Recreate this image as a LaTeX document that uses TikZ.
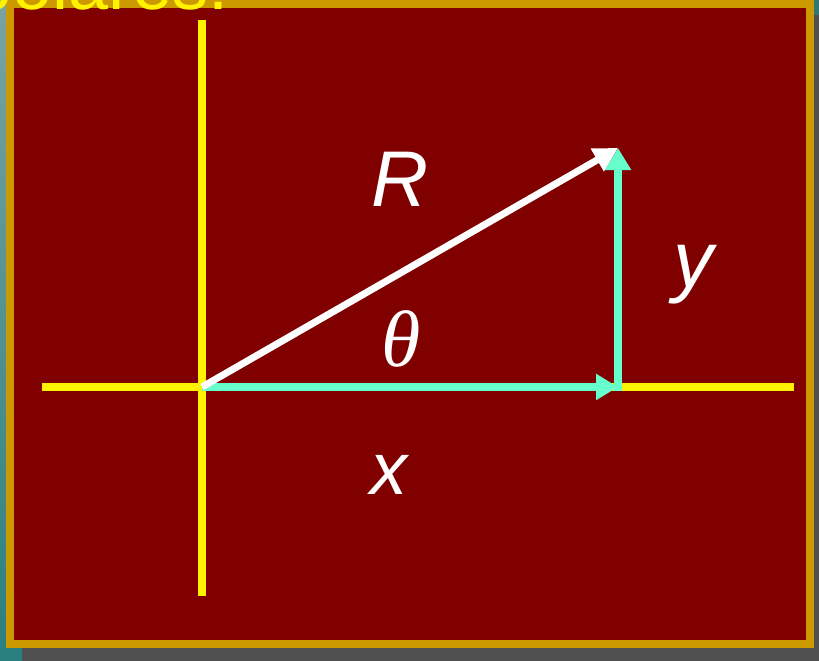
\documentclass[tikz,border=0pt]{standalone}
\usepackage{fontspec}
\setmainfont{Liberation Sans}
\newfontfamily\serifgr{Liberation Serif}
\usetikzlibrary{arrows.meta}
\definecolor{slidegrey}{HTML}{505050}
\definecolor{tealtop}{HTML}{7AA3A3}
\definecolor{tealbot}{HTML}{2A7F7F}
\definecolor{goldframe}{HTML}{CC9900}
\definecolor{darkred}{HTML}{800000}
\definecolor{aqua}{HTML}{66FFCC}
\tikzset{
  axisline/.style={yellow, line width=8pt},
  vecR/.style={white, line width=7pt, -{Triangle[length=24pt,width=25pt]}},
  vecC/.style={aqua, line width=8pt, -{Triangle[length=22pt,width=25pt]}},
  lbl/.style={white, inner sep=0pt, anchor=base},
}
\begin{document}
\begin{tikzpicture}[x=1pt,y=-1pt]
\useasboundingbox (0,0) rectangle (819,661);
\begin{scope}
\clip (0,0) rectangle (819,661);
% slide backdrop
\fill[slidegrey] (0,0) rectangle (819,661);
\shade[top color=tealtop, bottom color=tealbot] (0,0) rectangle (6,661);
\fill[tealbot] (0,648) rectangle (22,661);
\fill[tealbot!80!slidegrey] (814,0) rectangle (819,15);
% frame
\fill[goldframe] (6,0) rectangle (814,648);
\fill[darkred] (14,8) rectangle (806,640);
% clipped title text
\node[yellow, inner sep=0pt, anchor=base east, font=\fontsize{72}{80}\selectfont] (title) at (229,10) {polares:};
\end{scope}
% coordinates
\coordinate (O) at (202,387);
\coordinate (vtop) at (202,20);
\coordinate (vbot) at (202,596);
\coordinate (hleft) at (42,387);
\coordinate (hright) at (794,387);
\coordinate (X) at (618,387);
\coordinate (Xb) at (618,391);
\coordinate (P) at (618,148);
% axes
\draw[axisline] (vtop) -- (vbot);
\draw[axisline] (hleft) -- (hright);
% component vectors
\draw[vecC] (O) -- (X);
\draw[vecC] (Xb) -- (P);
% resultant
\draw[vecR] (O) -- (P);
% labels
\node[lbl, font=\itshape\fontsize{79}{82}\selectfont] (lR) at (400,206) {R};
\node[lbl, font=\serifgr\itshape\fontsize{80}{84}\selectfont] (lth) at (401,366) {θ};
\node[lbl, font=\itshape\fontsize{80}{84}\selectfont] (ly) at (693,287) {y};
\node[lbl, font=\itshape\fontsize{74}{78}\selectfont] (lx) at (389,494) {x};
\end{tikzpicture}
\end{document}
